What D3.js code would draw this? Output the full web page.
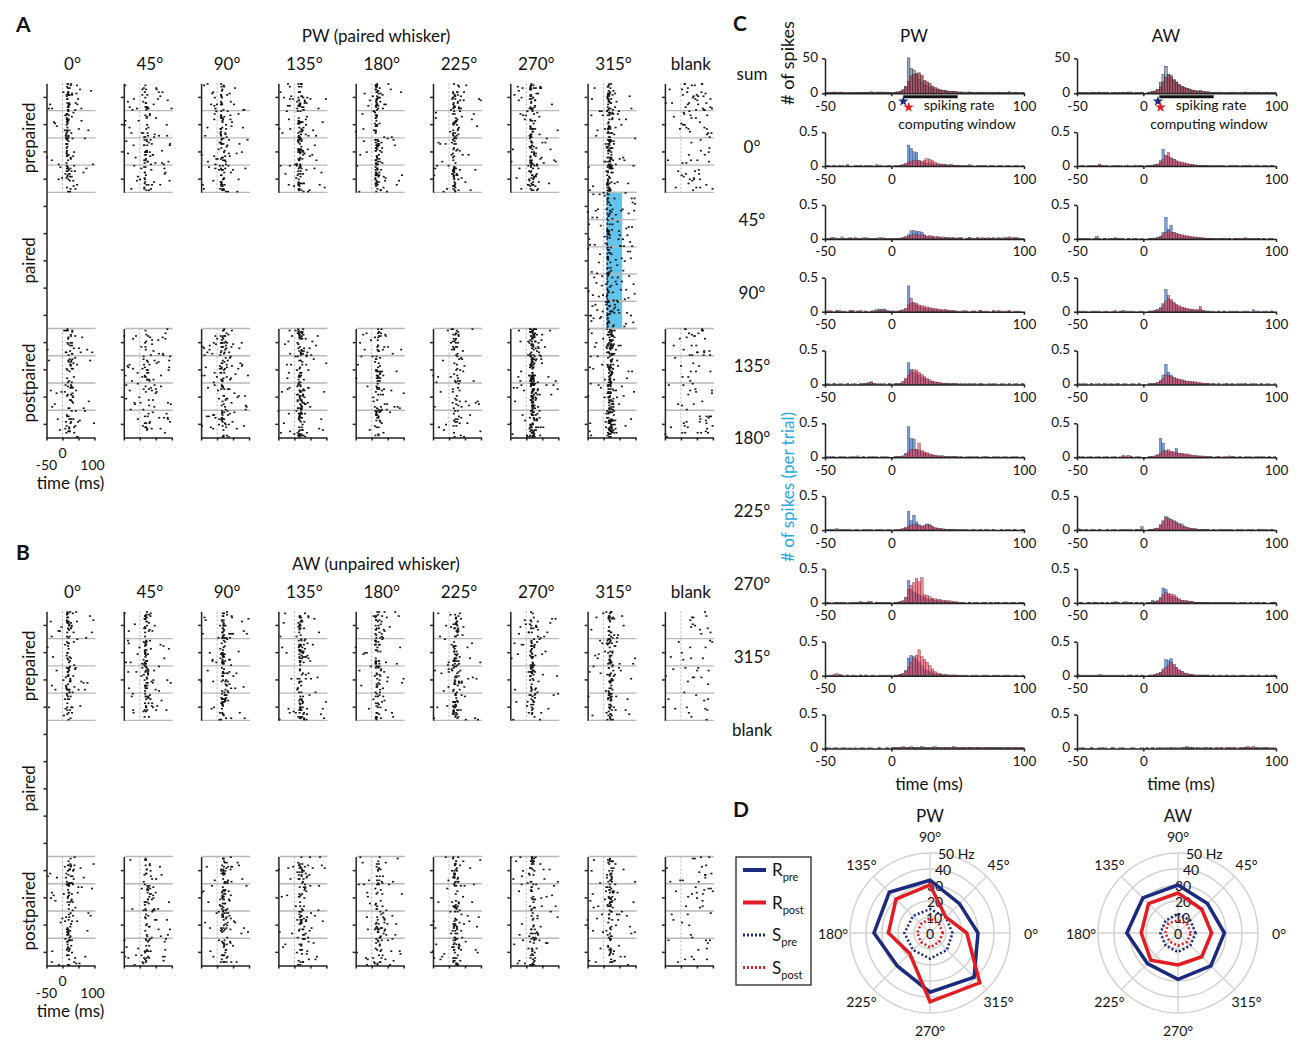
<!DOCTYPE html>
<html>
<head>
<meta charset="utf-8">
<script src="https://cdn.jsdelivr.net/npm/d3@7"></script>
<style>
  body { margin: 0; background: #fff; }
  text { font-family: Lato, "Open Sans", sans-serif; fill: #111; }
</style>
</head>
<body>
<script>
// ---- data ----------------------------------------------------------------
var directions = ["0°", "45°", "90°", "135°", "180°", "225°", "270°", "315°", "blank"];
var binStart = d3.range(-50, 100, 2);   // 2 ms bins, -50..100 ms

// PSTH, spikes per trial x100, one array of 75 bins per direction
var pwPre = [
  [1,0,0,1,0,1,0,0,2,0,0,1,0,1,0,0,1,0,0,2,0,1,0,0,1,
   0,1,0,1,2,3,31,26,21,20,8,6,5,4,5,3,3,2,2,3,2,1,2,1,1,
   1,0,1,0,2,0,0,1,0,1,0,0,1,0,0,1,0,0,0,1,0,0,1,0,0],
  [0,1,2,0,1,0,3,0,1,1,0,2,0,1,0,2,1,0,1,0,2,0,1,1,0,
   1,0,1,1,2,3,6,12,12,11,11,10,6,4,3,4,2,3,2,1,2,1,2,1,1,
   2,1,0,1,2,0,1,1,0,2,1,0,1,2,0,1,0,2,1,1,0,2,1,0,1],
  [1,0,1,0,2,0,1,0,0,1,2,0,1,0,0,1,0,1,0,3,4,3,4,2,1,
   1,0,1,2,2,4,38,13,12,10,8,6,5,5,4,3,3,3,2,2,2,2,1,1,1,
   0,1,0,1,0,1,1,0,2,0,1,0,0,1,0,2,0,1,0,1,0,0,1,0,0],
  [0,1,0,2,0,0,1,0,1,0,0,1,0,1,0,2,3,4,2,0,1,0,1,0,1,
   0,1,1,2,4,8,32,22,18,16,14,11,9,7,5,4,3,3,2,2,2,1,1,1,1,
   1,0,1,0,1,0,2,0,1,1,0,0,1,0,1,0,0,1,0,1,0,0,1,0,1],
  [1,0,1,0,0,1,0,1,0,0,1,0,2,0,1,0,0,1,0,1,0,0,1,0,0,
   0,1,1,1,2,6,45,28,27,12,10,8,6,5,4,3,3,2,2,2,1,1,1,1,1,
   0,1,0,0,1,0,1,0,0,1,0,1,0,0,1,0,0,1,0,0,1,0,1,0,0],
  [0,1,0,1,2,0,1,0,1,0,0,1,0,0,1,0,1,0,0,1,0,1,0,0,1,
   0,1,0,1,2,4,28,14,22,12,8,6,5,9,8,5,3,2,2,1,1,1,1,1,0,
   1,0,1,0,0,1,0,0,1,0,1,0,0,1,0,0,1,0,1,0,0,1,0,0,1],
  [0,1,0,0,1,0,1,0,0,1,0,1,0,2,1,0,1,2,0,1,1,0,1,0,1,
   0,1,1,2,3,8,33,20,16,14,12,10,8,6,5,5,4,3,3,2,2,2,1,1,1,
   1,0,1,0,1,0,0,1,0,0,1,0,1,0,0,1,0,0,1,0,0,1,0,0,1],
  [0,1,0,1,0,1,1,0,1,0,1,0,0,1,0,1,0,0,1,0,0,1,0,1,0,
   0,1,1,2,3,8,26,30,28,24,20,15,10,8,6,4,3,2,2,1,1,1,1,1,1,
   1,0,1,0,0,1,0,1,0,0,1,0,0,1,0,1,0,0,1,0,0,1,0,0,1],
  [0,1,0,0,1,0,0,1,0,0,0,1,0,0,1,0,0,1,0,0,1,0,0,1,0,
   1,2,1,2,3,2,2,3,2,1,2,3,2,2,1,2,3,2,1,2,2,1,2,3,2,
   2,1,2,1,2,2,1,2,1,1,2,1,2,1,2,2,1,1,2,1,1,2,1,1,1]
];
var pwPost = [
  [0,1,0,1,0,0,1,0,1,0,0,0,1,0,0,1,0,1,0,0,1,0,0,1,0,
   0,0,1,1,2,4,6,7,8,9,8,7,9,11,10,8,6,4,3,2,2,1,2,1,1,
   1,1,0,1,0,1,0,0,1,0,1,0,0,1,0,0,1,0,1,0,0,1,0,0,1],
  [1,0,1,2,0,1,0,1,0,2,1,0,1,0,2,0,1,1,0,1,0,2,1,0,1,
   0,1,1,1,2,3,4,5,6,6,5,6,5,4,5,4,3,3,2,3,2,2,1,2,1,
   1,2,0,1,2,1,0,2,1,0,1,2,1,0,1,2,1,0,2,3,2,1,2,1,0],
  [0,2,1,0,1,2,0,1,0,2,1,0,1,2,0,1,0,1,2,1,2,3,2,1,1,
   1,1,1,2,3,5,10,20,14,12,10,9,8,7,6,5,5,4,3,3,3,2,2,2,1,
   1,0,2,1,0,1,1,0,2,1,0,1,0,2,1,0,1,0,1,2,0,1,0,1,0],
  [1,0,0,1,0,1,0,0,1,0,1,0,0,1,2,1,2,3,2,1,0,1,0,0,1,
   0,1,1,2,4,9,14,20,22,21,18,15,12,9,7,5,4,3,3,2,2,2,1,1,1,
   0,1,0,1,0,1,0,0,1,0,0,1,0,1,0,0,1,0,0,1,0,1,0,0,1],
  [0,1,0,1,0,0,1,0,0,1,0,1,0,0,1,0,1,0,1,0,0,1,0,1,0,
   0,1,1,1,2,4,8,12,12,11,21,10,8,7,5,4,3,2,2,2,1,1,1,1,1,
   1,0,0,1,0,1,0,1,0,0,1,0,0,1,0,1,0,0,1,0,0,1,0,0,1],
  [1,0,1,0,0,1,0,1,0,1,0,0,1,0,0,1,0,1,0,0,1,0,0,1,0,
   0,0,1,1,2,3,6,7,8,8,7,6,7,8,7,5,4,3,2,2,1,1,1,1,1,
   0,1,0,1,0,0,1,0,1,0,0,1,0,1,0,0,1,0,0,1,0,1,0,0,1],
  [1,0,0,1,0,1,0,1,0,0,1,0,1,1,0,1,2,1,0,1,0,1,0,1,0,
   0,1,1,2,3,8,20,26,30,36,31,37,12,11,9,7,6,5,5,4,4,3,3,2,2,
   0,1,0,0,1,0,1,0,0,1,0,0,1,0,1,0,0,1,0,0,1,0,0,1,0],
  [1,0,1,2,3,2,1,0,1,0,0,1,0,1,0,1,0,1,0,0,1,0,1,0,1,
   0,1,1,2,3,6,12,20,26,30,38,28,24,20,15,10,6,4,3,2,2,1,1,1,1,
   0,1,0,1,0,0,1,0,0,1,0,1,0,0,1,0,0,1,0,1,0,0,1,0,0],
  [1,0,0,1,0,0,1,0,0,1,0,0,0,1,0,0,1,0,0,0,1,0,0,1,0,
   1,1,2,1,2,1,2,1,1,2,1,2,1,1,2,1,1,2,1,1,2,1,1,2,1,
   1,2,1,1,2,1,1,1,2,1,1,2,1,1,1,2,1,1,1,2,1,1,1,2,1]
];
var awPre = [
  [0,1,0,0,1,0,1,0,2,0,1,0,0,1,0,1,0,0,1,0,0,1,0,1,0,
   0,1,1,1,2,3,8,25,15,14,12,10,7,5,4,3,3,2,2,1,1,1,1,1,0,
   1,0,1,0,1,0,0,1,0,1,0,0,1,0,1,0,0,1,0,0,1,0,0,1,0],
  [0,1,0,1,0,0,1,4,1,0,1,0,1,0,2,1,0,1,0,1,0,1,0,0,1,
   0,0,1,1,1,2,4,10,32,14,20,10,8,6,5,4,3,3,2,2,2,1,1,1,1,
   1,0,1,0,1,1,0,1,0,1,0,1,0,1,0,0,1,0,1,0,1,0,0,1,0],
  [1,0,1,0,0,1,0,1,0,0,1,0,0,1,0,0,1,2,1,0,1,0,0,1,0,
   0,0,1,1,2,3,6,12,33,20,16,12,9,7,6,5,4,3,3,2,2,4,2,1,1,
   1,0,0,1,0,1,0,0,1,0,1,0,0,1,0,0,3,0,1,0,0,1,0,1,0],
  [0,1,0,1,0,1,0,0,1,0,1,0,1,0,0,1,0,1,0,0,1,0,0,1,0,
   0,0,1,1,2,3,6,14,30,18,14,10,8,7,6,5,4,4,3,3,2,2,2,1,1,
   0,1,0,1,0,0,1,0,1,0,0,1,0,1,0,0,1,0,0,1,0,1,0,0,1],
  [1,0,1,0,0,1,0,0,1,0,0,1,0,0,1,0,0,1,0,0,1,0,0,1,0,
   0,0,1,1,2,4,28,21,10,8,8,7,13,6,5,4,4,3,2,2,2,1,1,1,1,
   1,0,0,1,0,0,1,0,1,0,0,1,0,0,1,0,0,1,0,1,0,0,1,0,1],
  [0,1,0,1,0,0,1,0,1,0,0,1,0,1,0,0,1,0,1,0,1,0,1,1,5,
   0,0,1,1,2,3,8,14,20,18,16,14,12,10,9,6,4,3,2,2,1,1,1,1,1,
   0,1,0,1,0,1,0,1,0,0,1,0,1,0,0,1,0,0,1,0,1,0,0,1,0],
  [0,1,0,0,1,0,1,1,0,1,0,1,0,1,0,1,0,1,0,0,1,0,1,0,1,
   0,1,1,4,2,3,8,22,20,12,10,9,7,5,4,3,3,2,2,1,1,1,1,1,1,
   1,0,1,0,1,0,0,1,0,1,0,0,1,0,0,1,0,1,0,0,1,0,0,1,1],
  [0,1,0,1,0,1,0,1,0,1,0,1,0,1,0,1,0,1,0,1,1,0,1,0,1,
   0,0,1,1,2,3,5,10,24,22,25,16,12,8,6,4,3,2,2,1,1,1,1,1,1,
   0,1,0,0,1,0,1,0,0,1,0,0,1,0,0,1,0,0,1,0,0,1,0,0,1],
  [0,1,0,0,0,1,0,0,0,1,0,0,0,1,0,0,1,0,0,0,0,1,0,0,0,
   0,1,0,1,0,1,0,1,0,1,1,0,1,0,2,1,3,1,2,1,1,0,1,1,0,
   1,0,1,0,1,0,1,1,0,1,0,1,1,2,1,1,3,2,1,0,1,1,0,1,0]
];
var awPost = [
  [0,0,1,0,0,1,0,1,3,1,0,1,0,0,1,0,1,0,0,1,0,0,1,0,1,
   0,0,1,1,2,3,6,10,16,20,12,10,8,7,6,5,4,3,2,2,1,1,1,1,1,
   0,1,0,1,0,1,0,0,1,0,1,0,0,1,0,1,0,0,1,0,0,1,0,1,0],
  [1,0,1,0,1,0,0,1,0,0,1,0,0,1,0,0,1,0,0,1,0,0,1,0,0,
   0,0,1,1,1,2,3,6,10,12,10,9,8,7,6,5,5,4,3,3,2,2,2,1,1,
   1,1,0,1,1,0,1,1,0,1,1,0,1,2,1,1,0,1,1,0,1,0,1,0,0],
  [0,1,0,1,0,0,1,0,1,0,0,1,0,0,2,0,1,0,0,1,0,1,0,0,1,
   0,0,1,1,2,3,5,10,15,24,18,14,11,9,7,6,5,4,3,3,3,8,2,1,1,
   0,1,0,1,0,1,0,1,0,1,0,0,1,0,1,0,0,1,0,0,1,0,0,1,0],
  [1,0,1,0,0,1,0,1,0,0,1,0,0,1,0,1,0,0,1,0,0,1,0,1,0,
   0,0,1,1,2,3,5,9,14,13,12,10,9,8,7,6,5,5,4,4,3,3,2,2,2,
   1,1,0,1,0,1,1,0,1,0,1,0,1,1,0,1,0,1,0,1,0,0,1,0,0],
  [0,1,0,0,1,0,0,1,0,0,1,0,0,1,0,0,1,3,2,3,1,0,1,0,0,
   0,0,1,1,2,3,6,10,9,11,9,8,7,6,6,5,5,4,3,3,2,2,2,1,1,
   1,0,1,1,0,1,0,2,1,1,0,1,0,1,0,1,0,0,1,0,1,0,1,0,0],
  [2,1,0,1,0,1,0,0,1,0,0,1,0,0,1,0,0,1,0,1,0,0,1,0,1,
   0,0,1,1,2,3,7,12,18,17,15,13,11,8,6,5,4,3,2,2,1,1,1,1,1,
   0,1,0,0,1,0,1,0,1,0,0,1,0,0,1,0,1,0,1,1,0,1,0,1,0],
  [0,1,0,0,1,0,1,0,0,1,0,1,0,1,2,1,0,1,2,1,1,0,1,0,0,
   0,0,1,1,2,3,6,12,15,14,13,12,9,6,4,3,3,2,2,1,1,1,1,1,1,
   0,1,0,1,0,1,1,0,1,0,0,1,0,1,0,1,0,0,1,0,1,0,0,1,1],
  [2,0,1,0,1,0,1,0,2,1,1,0,1,0,1,0,1,0,0,1,1,0,1,0,1,
   0,0,1,1,2,3,5,8,12,15,20,16,12,9,6,4,3,2,2,1,1,1,1,1,1,
   0,1,0,1,0,0,1,0,1,0,0,1,0,1,0,0,1,0,1,0,0,1,0,1,1],
  [0,0,1,0,0,1,0,0,1,0,1,0,0,1,0,0,0,1,0,0,1,0,0,0,1,
   0,1,0,1,0,0,1,0,1,0,1,1,0,1,0,1,1,2,1,0,1,1,0,1,1,
   1,0,2,1,1,0,1,1,2,1,0,1,1,2,3,2,0,1,1,1,1,2,1,0,1]
];
// PW 315° during pairing
var pairedPW315 = [
  2,1,2,1,2,1,1,2,1,2,1,1,2,1,2,1,1,2,1,2,1,1,2,1,1,
  1,2,1,2,3,6,18,16,10,8,6,5,4,4,3,3,2,2,2,2,2,2,2,2,2,
  2,1,2,2,1,2,1,2,1,2,2,1,2,1,2,1,2,2,1,2,1,2,1,2,1
];
var pairedWindow = [10, 58];       // ms, shaded
var trialsPerCondition = 21;       // for the "sum" PSTH
var pwLatency = [9, 13], awLatency = [11, 13];   // pre, post onset (ms)
var pwWindow = [9, 50], awWindow = [12, 53];      // rate computing window (ms)

// tuning curves (Hz)
var polarAngles = [0, 45, 90, 135, 180, 225, 270, 315];
var hzTicks = [0, 10, 20, 30, 40, 50];
var pwRpre  = [30, 26, 33, 36, 35, 29, 37, 39];
var pwRpost = [23, 14, 30, 30, 26, 18, 43, 44];
var pwSpre  = [14, 14, 15, 15, 16, 15, 16, 15];
var pwSpost = [8, 8, 9, 8, 8, 8, 9, 8];
var awRpre  = [29, 26, 30, 31, 32, 27, 29, 29];
var awRpost = [21, 21, 25, 26, 23, 24, 20, 21];
var awSpre  = [11, 11, 12, 11, 11, 11, 12, 11];
var awSpost = [8, 8, 8, 8.5, 8, 7.5, 8, 8];

// ---- setup ---------------------------------------------------------------
var w = 1300, h = 1044;
var blue = "#1c2a7d", red = "#e31b23";
var svg = d3.select("body").append("svg").attr("width", w).attr("height", h);

function txt(x, y, s, size, anchor) {
  return svg.append("text").attr("x", x).attr("y", y)
    .attr("font-size", size).attr("text-anchor", anchor || "middle").text(s);
}
function vtxt(x, y, s, size, color) {
  return svg.append("text")
    .attr("transform", "translate(" + x + "," + y + ") rotate(-90)")
    .attr("text-anchor", "middle").attr("dominant-baseline", "central")
    .attr("font-size", size).style("fill", color || "#111").text(s);
}
function styleAxis(sel, width) {
  sel.selectAll("path, line").attr("stroke", "#222").attr("stroke-width", width || 1.3);
  sel.selectAll("text").attr("font-size", 13.5).style("font-family", "Lato, 'Open Sans', sans-serif");
}
// integer hash, used only to spread a bin's spike count over trials
function mix(a, b, c) {
  var hh = Math.imul(a + 1, 0x9e3779b1) ^ Math.imul(b + 7, 0x85ebca6b) ^ Math.imul(c + 13, 0xc2b2ae35);
  hh ^= hh >>> 15; hh = Math.imul(hh, 0x2c1b3c6d);
  hh ^= hh >>> 12; hh = Math.imul(hh, 0x297a2d39);
  hh ^= hh >>> 15;
  return hh >>> 0;
}

// ---- panels A and B: rasters -----------------------------------------------
function drawRasters(yOff, pre, post, letter, title, fullCols, pairedCol) {
  txt(16, 32 + yOff, letter, 21, "start").attr("font-weight", "bold");
  txt(376, 42 + yOff, title, 17);
  var y = d3.scaleLinear().domain([0, 260]).range([83.3 + yOff, 437.5 + yOff]);
  vtxt(28, y(40), "prepaired", 17);
  vtxt(28, y(130), "paired", 17);
  vtxt(28, y(220), "postpaired", 17);

  directions.forEach(function(dir, i) {
    var x0 = 46.5 + i * 77.3;
    var x = d3.scaleLinear().domain([-50, 100]).range([x0, x0 + 48]);
    var g = svg.append("g");
    txt(x0 + 26, 70 + yOff, dir, 17);

    var sections = [{a: 0, b: 80, v: pre[i]}, {a: 180, b: 260, v: post[i]}];
    if (i === pairedCol) sections.push({a: 80, b: 180, v: pairedPW315, shade: true});

    sections.forEach(function(s) {
      if (s.shade) {
        g.append("rect")
          .attr("x", x(pairedWindow[0])).attr("width", x(pairedWindow[1]) - x(pairedWindow[0]))
          .attr("y", y(s.a)).attr("height", y(s.b) - y(s.a))
          .attr("fill", "#62c4eb");
      }
      g.append("line")
        .attr("x1", x(0)).attr("x2", x(0)).attr("y1", y(s.a)).attr("y2", y(s.b))
        .attr("stroke", "#b5b5b5").attr("stroke-dasharray", "2,2");
      d3.range(s.a, s.b + 1, 20).forEach(function(t) {
        if (t === 0 || t === 260) return;
        g.append("line")
          .attr("x1", x0 + 1).attr("x2", x0 + 49).attr("y1", y(t)).attr("y2", y(t))
          .attr("stroke", "#b8b8b8").attr("stroke-width", 1.3);
      });
      if (s.shade) {
        g.append("line")
          .attr("x1", x(pairedWindow[0] + 1)).attr("x2", x(pairedWindow[0] + 1))
          .attr("y1", y(s.a)).attr("y2", y(s.b))
          .attr("stroke", blue).attr("stroke-width", 1.4).attr("stroke-dasharray", "3,2");
      }
      // spikes: each bin's count (value x trials) spread over the block's trials
      var nT = s.b - s.a, spikes = [], seed = i * 1000 + s.a + yOff;
      s.v.forEach(function(v, k) {
        var n = Math.round(v / 100 * nT);
        for (var j = 0; j < n; j++) {
          var hsh = mix(k, j, seed);
          spikes.push({
            t: binStart[k] + (hsh % 20) / 10,
            trial: s.a + (Math.floor(hsh / 20) % nT)
          });
        }
      });
      g.selectAll(null).data(spikes).enter().append("rect")
        .attr("x", function(d) { return x(d.t) - 1; })
        .attr("y", function(d) { return y(d.trial + 0.5) - 0.8; })
        .attr("width", 2).attr("height", 1.6)
        .attr("fill", "#111");
    });

    var parts = (fullCols.indexOf(i) >= 0) ? [[0, 260]] : [[0, 80], [180, 260]];
    parts.forEach(function(p) {
      var ys = d3.scaleLinear().domain(p).range([y(p[0]), y(p[1])]);
      var ax = g.append("g").attr("transform", "translate(" + x0 + ",0)")
        .call(d3.axisLeft(ys).tickValues(d3.range(p[0] + 10, p[1], 20))
          .tickSize(3).tickSizeOuter(0).tickFormat(""));
      styleAxis(ax, 1.5);
    });
    var bx = g.append("g").attr("transform", "translate(0," + y(260) + ")")
      .call(d3.axisBottom(x).tickValues([-50, 0, 50, 100]).tickSize(3).tickSizeOuter(0).tickFormat(""));
    styleAxis(bx, 1.5);

    if (i === 0) {
      txt(x(-50), y(260) + 32, "-50", 14);
      txt(x(0), y(260) + 20, "0", 14);
      txt(x(100) - 2, y(260) + 32, "100", 14);
      txt(x0 + 24, y(260) + 51, "time (ms)", 17);
    }
  });
}

drawRasters(0, pwPre, pwPost, "A", "PW (paired whisker)", [0, 7], 7);
drawRasters(528, awPre, awPost, "B", "AW (unpaired whisker)", [0], -1);

// ---- panel C: PSTHs ----------------------------------------------------------
txt(733, 31, "C", 21, "start").attr("font-weight", "bold");
function rowBase(r) { return 93.3 + 72.8 * r; }
["sum"].concat(directions).forEach(function(d, r) {
  txt(752, rowBase(r) - 13, d, 17);
});
vtxt(787, 63, "# of spikes", 18);
vtxt(787, 487, "# of spikes (per trial)", 17, "#27a9e1");

function drawPSTH(xLeft, pre, post, lat, win, head) {
  var x = d3.scaleLinear().domain([-50, 100]).range([xLeft, xLeft + 199]);
  var bw = x(2) - x(0);
  txt(xLeft + 89, 42, head, 17);

  var sumPre = binStart.map(function(_, k) { return d3.sum(pre, function(c) { return c[k]; }) / 100 * trialsPerCondition; });
  var sumPost = binStart.map(function(_, k) { return d3.sum(post, function(c) { return c[k]; }) / 100 * trialsPerCondition; });
  var rows = [{pre: sumPre, post: sumPost, max: 50, hgt: 35, sum: true}];
  pre.forEach(function(c, ci) {
    rows.push({
      pre: c.map(function(v) { return v / 100; }),
      post: post[ci].map(function(v) { return v / 100; }),
      max: 0.5, hgt: 34
    });
  });

  rows.forEach(function(row, r) {
    var base = rowBase(r);
    var y = d3.scaleLinear().domain([0, row.max]).range([base, base - row.hgt]);
    var g = svg.append("g");
    var styles = row.sum
      ? [{k: "pre", fill: "#8193b8", op: 0.75}, {k: "post", fill: "#a3303e", op: 0.7}]
      : [{k: "pre", fill: "#4a7dcc", op: 0.75}, {k: "post", fill: "#ef3048", op: 0.6}];
    styles.forEach(function(st) {
      g.selectAll(null).data(row[st.k]).enter().append("rect")
        .attr("x", function(d, k) { return x(binStart[k]); })
        .attr("width", bw)
        .attr("y", function(d) { return y(d); })
        .attr("height", function(d) { return base - y(d); })
        .attr("fill", st.fill).attr("fill-opacity", st.op)
        .attr("stroke", "#333").attr("stroke-width", row.sum ? 0.5 : 0.3);
    });
    var ay = g.append("g").attr("transform", "translate(" + xLeft + ",0)")
      .call(d3.axisLeft(y).tickValues([0, row.max]).tickSize(3).tickSizeOuter(0).tickPadding(4)
        .tickFormat(function(v) { return String(v); }));
    styleAxis(ay, 1.5);
    ay.selectAll("text").attr("dy", "0.25em");
    var axb = g.append("g").attr("transform", "translate(0," + base + ")")
      .call(d3.axisBottom(x).tickValues([-50, 0, 100]).tickSize(3).tickSizeOuter(0).tickPadding(5)
        .tickFormat(function(v) { return String(v); }));
    styleAxis(axb, 1.5);
  });

  // rate window and onset markers
  var b0 = rowBase(0);
  svg.append("line").attr("x1", x(win[0])).attr("x2", x(win[1]))
    .attr("y1", b0 + 3.5).attr("y2", b0 + 3.5).attr("stroke", "#111").attr("stroke-width", 3);
  svg.append("path").attr("d", d3.symbol(d3.symbolStar, 34)())
    .attr("transform", "translate(" + x(lat[0]) + "," + (b0 + 8) + ")").attr("fill", blue);
  svg.append("path").attr("d", d3.symbol(d3.symbolStar, 34)())
    .attr("transform", "translate(" + x(lat[1]) + "," + (b0 + 14) + ")").attr("fill", red);
  txt(xLeft + 134, b0 + 17, "spiking rate", 14);
  txt(xLeft + 132, b0 + 36, "computing window", 14);
  txt(xLeft + 104, rowBase(9) + 41, "time (ms)", 17);
}
drawPSTH(825, pwPre, pwPost, pwLatency, pwWindow, "PW");
drawPSTH(1077, awPre, awPost, awLatency, awWindow, "AW");

// ---- panel D: tuning curves -------------------------------------------------
txt(733, 817, "D", 21, "start").attr("font-weight", "bold");

var legendItems = [
  {name: "R", sub: "pre", color: blue, dash: null},
  {name: "R", sub: "post", color: red, dash: null},
  {name: "S", sub: "pre", color: blue, dash: "2,2"},
  {name: "S", sub: "post", color: red, dash: "2,2"}
];
svg.append("rect").attr("x", 736).attr("y", 857).attr("width", 75).attr("height", 128)
  .attr("fill", "none").attr("stroke", "#111").attr("stroke-width", 1.2);
legendItems.forEach(function(it, k) {
  var ly = 870 + k * 32.5;
  svg.append("line").attr("x1", 743).attr("x2", 766).attr("y1", ly).attr("y2", ly)
    .attr("stroke", it.color).attr("stroke-width", it.dash ? 3 : 4)
    .attr("stroke-dasharray", it.dash);
  var t = svg.append("text").attr("x", 772).attr("y", ly + 6).attr("font-size", 17);
  t.append("tspan").text(it.name);
  t.append("tspan").attr("dy", 5).attr("font-size", 11).text(it.sub);
});

function drawPolar(cx, cy, title, rPre, rPost, sPre, sPost) {
  var r = d3.scaleLinear().domain([0, 50]).range([0, 80]);
  var g = svg.append("g").attr("transform", "translate(" + cx + "," + cy + ")");
  txt(cx, cy - 111, title, 17);
  hzTicks.slice(1).forEach(function(v) {
    g.append("circle").attr("r", r(v)).attr("fill", "none")
      .attr("stroke", "#d2d2d2").attr("stroke-width", 1.5);
  });
  polarAngles.forEach(function(a) {
    var th = a * Math.PI / 180;
    g.append("line").attr("x1", 0).attr("y1", 0)
      .attr("x2", r(50) * Math.cos(th)).attr("y2", -r(50) * Math.sin(th))
      .attr("stroke", "#d2d2d2").attr("stroke-width", 1.3);
    g.append("text")
      .attr("x", 97 * Math.cos(th) + (a === 0 ? 4 : 0)).attr("y", -97 * Math.sin(th))
      .attr("text-anchor", "middle").attr("dominant-baseline", "central")
      .attr("font-size", 14).text(a + "°");
  });
  var dx = [0, 4, 5, 5, 13];
  hzTicks.forEach(function(v, k) {
    g.append("text")
      .attr("x", k < 5 ? dx[k] : 8).attr("y", -r(v))
      .attr("text-anchor", k < 5 ? "middle" : "start").attr("dominant-baseline", "central")
      .attr("font-size", 14).text(k < 5 ? v : v + " Hz");
  });
  var line = d3.lineRadial()
    .angle(function(d, k) { return Math.PI / 2 - polarAngles[k] * Math.PI / 180; })
    .radius(function(d) { return r(d); })
    .curve(d3.curveLinearClosed);
  [
    {v: sPre, c: blue, dash: "2,2.2", wd: 2.6},
    {v: sPost, c: red, dash: "2,2.2", wd: 2.6},
    {v: rPre, c: blue, dash: null, wd: 3.5},
    {v: rPost, c: red, dash: null, wd: 3.5}
  ].forEach(function(s) {
    g.append("path").attr("d", line(s.v)).attr("fill", "none")
      .attr("stroke", s.c).attr("stroke-width", s.wd)
      .attr("stroke-dasharray", s.dash).attr("stroke-linejoin", "miter");
  });
}
drawPolar(930, 933, "PW", pwRpre, pwRpost, pwSpre, pwSpost);
drawPolar(1178, 933, "AW", awRpre, awRpost, awSpre, awSpost);
</script>
</body>
</html>
